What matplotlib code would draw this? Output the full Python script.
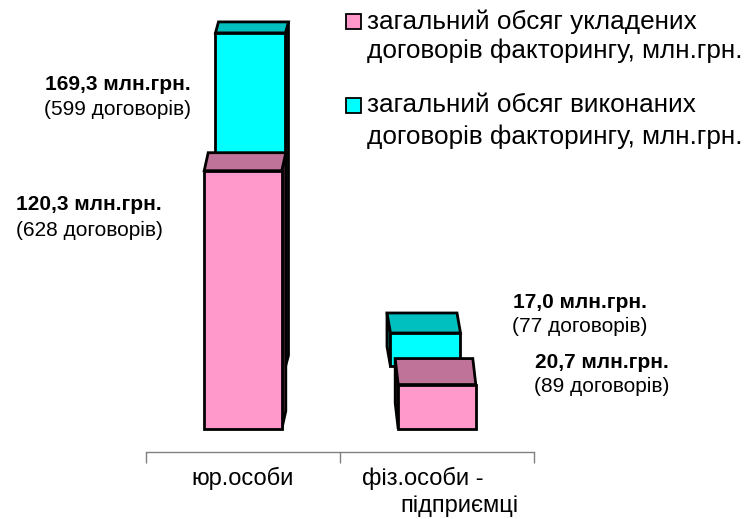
import matplotlib
matplotlib.use('Agg')
import matplotlib.pyplot as plt
from matplotlib.patches import Rectangle

# ---------------- data ----------------
categories = ["юр.особи", "фіз.особи -", "підприємці"]
concluded = [120.3, 20.7]          # pink (front row)
executed = [169.3, 17.0]           # cyan (back row)
concluded_counts = [628, 89]
executed_counts = [599, 77]
legend_lines = [["загальний обсяг укладених", "договорів факторингу, млн.грн."],
                ["загальний обсяг виконаних", "договорів факторингу, млн.грн."]]

# ---------------- style ----------------
PINK, PINK_TOP, PINK_SIDE = '#FF99CC', '#BF7399', '#7A3D5C'
CYAN, CYAN_TOP, CYAN_SIDE = '#00FFFF', '#00BFBF', '#006F6F'
FONT = 'Liberation Sans'
plt.rcParams['font.family'] = [FONT, 'DejaVu Sans']

W, H = 752, 519
fig = plt.figure(figsize=(W / 100, H / 100), dpi=100)


def fx(x):
    return x / W


def fy(y):
    return 1 - y / H


L, R, T, B = 146, 534, 0, 452
rect = [fx(L), fy(B), (R - L) / W, (B - T) / H]

ax_back = fig.add_axes(rect)
ax_front = fig.add_axes(rect)
ax_front.set_facecolor('none')

# front plane scale
ax_front.set_xlim(-0.5, 1.5)
ax_front.set_ylim(-10.71, 199.8)
# back plane (farther away -> smaller, shifted)
ax_back.set_xlim(-0.597, 1.620)
ax_back.set_ylim(-43.4, 186.0)
ax_back.axis('off')

BAR_W = 0.40
EDGE_LW = 2.0
front_depth = [(4, 18), (-3, 26)]
back_depth = [(3, 11), (-3.5, 20)]


def px_scale(ax):
    x0, x1 = ax.get_xlim()
    y0, y1 = ax.get_ylim()
    return (R - L) / (x1 - x0), (B - T) / (y1 - y0)


def bar3d(ax, x, v, depth, front, top, side):
    pxx, pxy = px_scale(ax)
    dx, dy = depth[0] / pxx, depth[1] / pxy
    x0, x1 = x - BAR_W / 2, x + BAR_W / 2
    sx = x1 if dx > 0 else x0
    ax.fill([sx, sx, sx + dx, sx + dx], [0, v, v + dy, dy], facecolor=side,
            edgecolor='black', lw=EDGE_LW, joinstyle='miter', zorder=2)
    ax.fill([x0, x1, x1 + dx, x0 + dx], [v, v, v + dy, v + dy], facecolor=top,
            edgecolor='black', lw=EDGE_LW, joinstyle='miter', zorder=2)
    ax.bar([x], [v], BAR_W, facecolor=front, edgecolor='black', lw=EDGE_LW, zorder=3)


for i, v in enumerate(executed):
    bar3d(ax_back, i, v, back_depth[i], CYAN, CYAN_TOP, CYAN_SIDE)
for i, v in enumerate(concluded):
    bar3d(ax_front, i, v, front_depth[i], PINK, PINK_TOP, PINK_SIDE)

# axis
for s in ['left', 'right', 'top']:
    ax_front.spines[s].set_visible(False)
ax_front.spines['bottom'].set_color('#808080')
ax_front.spines['bottom'].set_linewidth(1.0)
ax_front.set_yticks([])
ax_front.set_xticks([-0.5, 0.5, 1.5])
ax_front.set_xticklabels([])
ax_front.tick_params(axis='x', direction='out', length=8, width=1.0, color='#808080')

# category labels
cat_pos = [(242.5, 478), (423, 478), (459, 506)]
for (x, y), t in zip(cat_pos, categories):
    fig.text(fx(x), fy(y), t, ha='center', va='center', fontsize=17, color='black')


def fmt(v):
    return f"{v:.1f}".replace('.', ',') + " млн.грн."


# value annotations
ANN_FS = 15
ann_exec = [(118, 85, 109), (580, 303, 326)]
ann_conc = [(89, 205, 230), (602, 363, 386)]
for (x, y1, y2), v, n in zip(ann_exec, executed, executed_counts):
    fig.text(fx(x), fy(y1), fmt(v), ha='center', va='center', fontsize=ANN_FS, fontweight='bold')
    fig.text(fx(x), fy(y2), f"({n} договорів)", ha='center', va='center', fontsize=ANN_FS)
for (x, y1, y2), v, n in zip(ann_conc, concluded, concluded_counts):
    fig.text(fx(x), fy(y1), fmt(v), ha='center', va='center', fontsize=ANN_FS, fontweight='bold')
    fig.text(fx(x), fy(y2), f"({n} договорів)", ha='center', va='center', fontsize=ANN_FS)

# legend
LEG_FS = 18.8
leg_rows = [(14, 22, 51, PINK), (98, 105, 137, CYAN)]
for (sq_top, y1, y2, c), lines in zip(leg_rows, legend_lines):
    fig.patches.append(Rectangle((fx(346), fy(sq_top + 15)), 15 / W, 15 / H,
                                 transform=fig.transFigure, facecolor=c,
                                 edgecolor='black', lw=1.3))
    fig.text(fx(367), fy(y1), lines[0], ha='left', va='center', fontsize=LEG_FS)
    fig.text(fx(367), fy(y2), lines[1], ha='left', va='center', fontsize=LEG_FS)

fig.savefig('out.png', dpi=100)
